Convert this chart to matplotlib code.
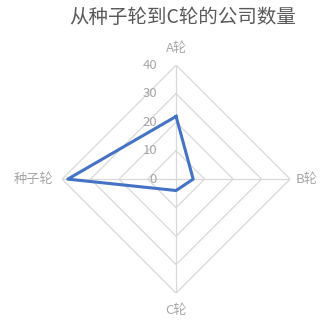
import numpy as np
import matplotlib.pyplot as plt

plt.rcParams['font.family'] = ['Noto Sans CJK SC', 'DejaVu Sans']

# -----------------------------
# Data
# -----------------------------
rounds = ["A轮", "B轮", "C轮", "种子轮"]
counts = [22, 6, 4, 38]
ring_values = [0, 10, 20, 30, 40]

angles = np.arange(len(rounds)) * 2 * np.pi / len(rounds)
closed_angles = np.append(angles, angles[0])

# -----------------------------
# Plot
# -----------------------------
fig = plt.figure(figsize=(3.2, 3.2), dpi=100)
ax = fig.add_axes([0.194, 0.084, 0.7125, 0.7125], projection="polar")
ax.set_theta_offset(np.pi / 2)
ax.set_theta_direction(-1)
ax.set_ylim(0, 40)
ax.grid(False)
ax.spines["polar"].set_visible(False)
ax.set_xticks([])
ax.set_yticks([])

# diamond grid rings and spokes
for r in ring_values[1:]:
    ax.plot(closed_angles, [r] * len(closed_angles), color="#d9d9d9", linewidth=0.9, zorder=1)
for a in angles:
    ax.plot([a, a], [0, 40], color="#d9d9d9", linewidth=0.9, zorder=1)

# series
ax.plot(closed_angles, counts + counts[:1], color="#4472C4", linewidth=2.2, zorder=3)

# radial value labels to the left of the top spoke
for r in ring_values:
    ax.annotate(str(r), xy=(0, r), xytext=(-13.7, 0), textcoords="offset points",
                ha="right", va="center", fontsize=9.5, color="#a6a6a6")

# category labels
label_pos = [(46, "center", "center"), (42, "left", "center"),
             (46, "center", "center"), (43, "right", "center")]
for a, name, (r, ha, va) in zip(angles, rounds, label_pos):
    ax.text(a, r, name, ha=ha, va=va, fontsize=9.5, color="#a6a6a6")

fig.text(0.57, 0.944, "从种子轮到C轮的公司数量", ha="center", va="center",
         fontsize=14, color="#595959")

plt.savefig("out.png", dpi=100)
plt.close()
